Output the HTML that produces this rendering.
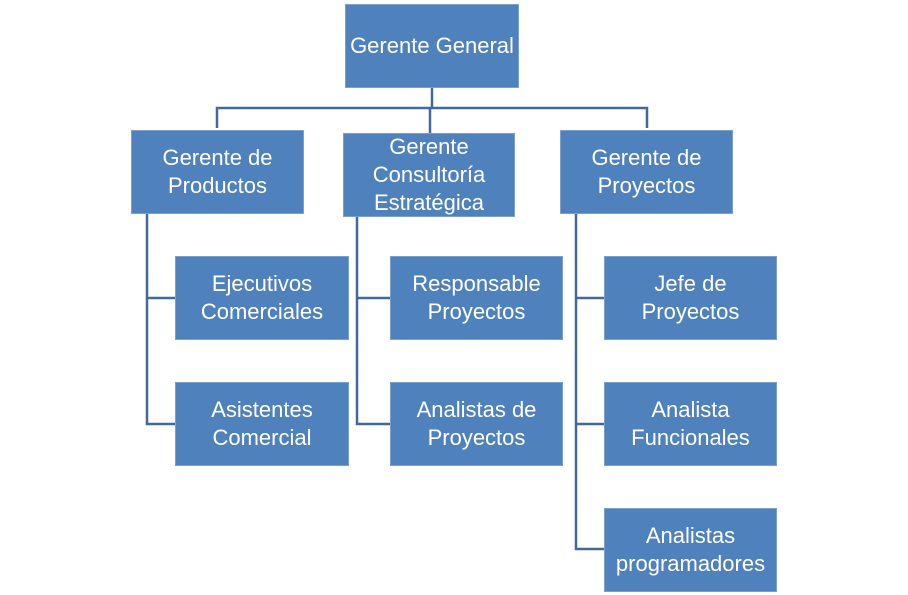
<!DOCTYPE html>
<html><head><meta charset="utf-8"><style>
body{margin:0;background:#fff;width:908px;height:595px;position:relative;overflow:hidden}
.b{position:absolute;background:#4f81bd;border:1px solid #7aa0cf;box-sizing:border-box;color:#fff;font-family:"Liberation Sans",sans-serif;font-size:22px;line-height:28px;display:flex;align-items:center;justify-content:center;text-align:center}
svg{position:absolute;left:0;top:0}
</style></head><body>
<svg width="908" height="595"><g stroke="#43699b" stroke-width="2.5" fill="none">
<path d="M432 88V108M217 128V108H647V128M430 108V133"/>
<path d="M147 213V424H175M147 298H175"/>
<path d="M357 216V424H390M357 298H390"/>
<path d="M576 213V549H604M576 298H604M576 424H604"/>
</g></svg>
<div class="b" style="left:345px;top:4px;width:174px;height:84px">Gerente General</div>
<div class="b" style="left:131px;top:130px;width:173px;height:84px">Gerente de<br>Productos</div>
<div class="b" style="left:343px;top:133px;width:172px;height:84px">Gerente<br>Consultoría<br>Estratégica</div>
<div class="b" style="left:560px;top:130px;width:173px;height:84px">Gerente de<br>Proyectos</div>
<div class="b" style="left:175px;top:256px;width:174px;height:84px">Ejecutivos<br>Comerciales</div>
<div class="b" style="left:175px;top:382px;width:174px;height:84px">Asistentes<br>Comercial</div>
<div class="b" style="left:390px;top:256px;width:173px;height:84px">Responsable<br>Proyectos</div>
<div class="b" style="left:390px;top:382px;width:173px;height:84px">Analistas de<br>Proyectos</div>
<div class="b" style="left:604px;top:256px;width:173px;height:84px">Jefe de<br>Proyectos</div>
<div class="b" style="left:604px;top:382px;width:173px;height:84px">Analista<br>Funcionales</div>
<div class="b" style="left:604px;top:508px;width:173px;height:84px">Analistas<br>programadores</div>
</body></html>
